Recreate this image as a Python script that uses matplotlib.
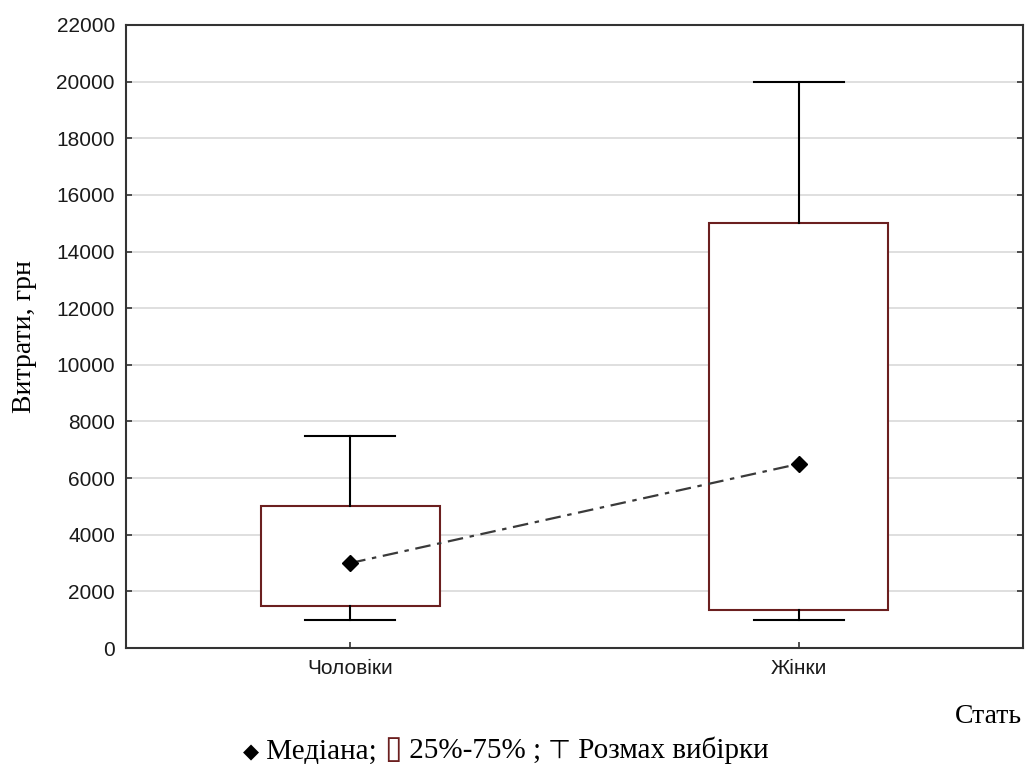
import matplotlib
matplotlib.use("Agg")
import matplotlib.pyplot as plt

# дані
categories = ["Чоловіки", "Жінки"]
medians = [3000, 6500]
q1 = [1500, 1350]
q3 = [5000, 15000]
mins = [1000, 1000]
maxs = [7500, 20000]
yticks = list(range(0, 22001, 2000))

box_color = "#6b1f1f"
serif = ["Liberation Serif", "DejaVu Sans"]


def main():
    fig = plt.figure(figsize=(10.26, 7.64), dpi=100)
    ax = fig.add_axes([0.1228, 0.1518, 0.8742, 0.8155])

    stats = []
    for i, name in enumerate(categories):
        stats.append(dict(med=medians[i], q1=q1[i], q3=q3[i],
                          whislo=mins[i], whishi=maxs[i], fliers=[], label=name))

    pos = list(range(len(categories)))
    ax.bxp(stats, positions=pos, widths=0.4, capwidths=0.2, patch_artist=True,
           showfliers=False,
           boxprops=dict(facecolor="white", edgecolor=box_color, linewidth=1.5),
           whiskerprops=dict(color="black", linewidth=1.5),
           capprops=dict(color="black", linewidth=1.5),
           medianprops=dict(linewidth=0),
           zorder=3)

    ax.plot(pos, medians, color="#3a3a3a", linestyle=(0, (7, 3, 2, 3)), linewidth=1.6,
            marker="D", markersize=8, markerfacecolor="black", markeredgecolor="black",
            zorder=4)

    ax.set_xlim(-0.5, 1.5)
    ax.set_ylim(0, 22000)
    ax.set_yticks(yticks)
    ax.set_xticks(pos)
    ax.set_xticklabels(categories)
    ax.grid(axis="y", color="#dcdcdc", linewidth=1.3, zorder=0)
    ax.set_axisbelow(True)

    for s in ax.spines.values():
        s.set_color("#333333")
        s.set_linewidth(1.5)

    ax.tick_params(axis="both", direction="in", length=4, width=1.2, color="#333333",
                   labelsize=15, labelcolor="#1a1a1a", pad=8)
    ax.tick_params(axis="y", right=True)
    for lab in ax.get_xticklabels() + ax.get_yticklabels():
        lab.set_family("Liberation Sans")

    ax.set_ylabel("Витрати, грн", family=serif, fontsize=20, labelpad=14)

    fig.text(0.996, 0.062, "Стать", family=serif, fontsize=20, ha="right", va="center")

    # легенда внизу - шматки тексту один за одним по базовій лінії
    pieces = [("\u25C6", "black", 15), (" Медіана; ", "black", 21),
              ("\u25AF", box_color, 23), (" 25%-75% ; ", "black", 21),
              ("\u22A4", "black", 19), (" Розмах вибірки", "black", 21)]
    fig.canvas.draw()
    renderer = fig.canvas.get_renderer()
    x = 243
    y = 6
    for txt, col, size in pieces:
        t = fig.text(x / 1026, y / 764, txt, family=serif, fontsize=size, color=col,
                     ha="left", va="baseline")
        x += t.get_window_extent(renderer).width

    fig.savefig("out.png", dpi=100)


if __name__ == "__main__":
    main()
